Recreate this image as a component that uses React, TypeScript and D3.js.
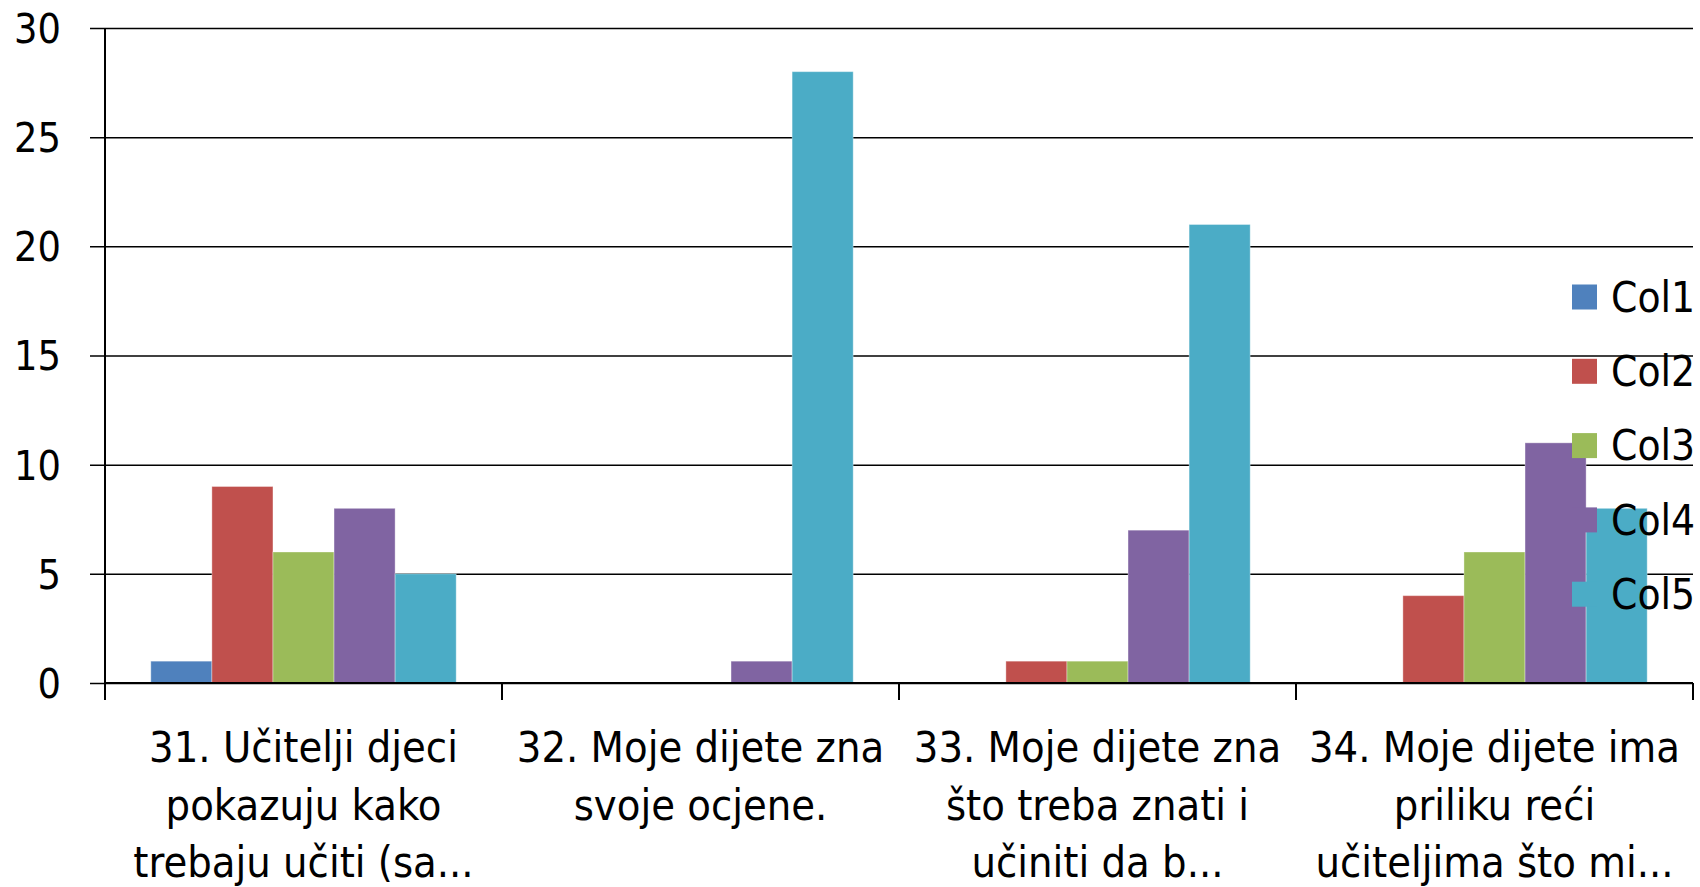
import { axisLeft, max, scaleBand, scaleLinear, select } from 'd3';
import React, { useEffect, useRef } from 'react';

const categories = ['31', '32', '33', '34'];
const categoryLabels = [
  ['31. Učitelji djeci', 'pokazuju kako', 'trebaju učiti (sa...'],
  ['32. Moje dijete zna', 'svoje ocjene.'],
  ['33. Moje dijete zna', 'što treba znati i', 'učiniti da b...'],
  ['34. Moje dijete ima', 'priliku reći', 'učiteljima što mi...'],
];
const seriesNames = ['Col1', 'Col2', 'Col3', 'Col4', 'Col5'];
const col1 = [1, 0, 0, 0];
const col2 = [9, 0, 1, 4];
const col3 = [6, 0, 1, 6];
const col4 = [8, 1, 7, 11];
const col5 = [5, 28, 21, 8];
const yTicks = [0, 5, 10, 15, 20, 25, 30];
const colors = ['#4F81BD', '#C0504D', '#9BBB59', '#8064A2', '#4BACC6'];

const FONT = "'Liberation Sans Narrow', 'DejaVu Sans Condensed', Lato, sans-serif";

function App() {
  const svgRef = useRef(null);

  useEffect(() => {
    const svg = select(svgRef.current);
    svg.selectAll('*').remove();

    const allSeries = [col1, col2, col3, col4, col5];
    const left = 105;
    const right = 1693;
    const top = 28;
    const bottom = 683;

    const x0 = scaleBand().domain(categories).range([left, right]).padding(0);
    const x1 = scaleBand()
      .domain(seriesNames)
      .range([0, x0.bandwidth()])
      .paddingInner(0)
      .paddingOuter(0.75);
    const y = scaleLinear()
      .domain([0, max(yTicks)])
      .range([bottom, top]);

    // gridlines + y labels
    const yAxis = axisLeft(y)
      .tickValues(yTicks)
      .tickSize(-(right - left))
      .tickPadding(0);
    const yg = svg
      .append('g')
      .attr('transform', `translate(${left},0)`)
      .call(yAxis);
    yg.select('.domain').remove();
    yg.selectAll('.tick line')
      .attr('x1', -15)
      .attr('stroke', '#000')
      .attr('stroke-width', 1.5);
    yg.selectAll('.tick text')
      .attr('x', -44)
      .attr('dy', '0.35em')
      .attr('font-size', 41)
      .attr('font-family', FONT)
      .attr('fill', '#000');

    // bars
    allSeries.forEach((vals, si) => {
      svg
        .append('g')
        .selectAll('rect')
        .data(vals)
        .join('rect')
        .attr('x', (d, i) => x0(categories[i]) + x1(seriesNames[si]))
        .attr('y', d => y(d))
        .attr('width', x1.bandwidth())
        .attr('height', d => bottom - y(d))
        .attr('fill', colors[si])
        .attr('stroke', 'rgba(255,255,255,0.35)')
        .attr('stroke-width', 1);
    });

    // axes lines
    svg
      .append('line')
      .attr('x1', left)
      .attr('x2', left)
      .attr('y1', top)
      .attr('y2', bottom + 17)
      .attr('stroke', '#000')
      .attr('stroke-width', 2);
    svg
      .append('line')
      .attr('x1', left)
      .attr('x2', right)
      .attr('y1', bottom)
      .attr('y2', bottom)
      .attr('stroke', '#000')
      .attr('stroke-width', 2);
    const bounds = categories.map(c => x0(c)).concat([right]);
    svg
      .append('g')
      .selectAll('line')
      .data(bounds)
      .join('line')
      .attr('x1', d => d)
      .attr('x2', d => d)
      .attr('y1', bottom)
      .attr('y2', bottom + 17)
      .attr('stroke', '#000')
      .attr('stroke-width', 2);

    // category labels
    const lab = svg
      .append('g')
      .selectAll('text')
      .data(categoryLabels)
      .join('text')
      .attr('x', (d, i) => x0(categories[i]) + x0.bandwidth() / 2)
      .attr('text-anchor', 'middle')
      .attr('font-size', 43)
      .attr('font-family', FONT)
      .attr('fill', '#000');
    lab
      .selectAll('tspan')
      .data(d => d)
      .join('tspan')
      .attr('x', function () {
        return select(this.parentNode).attr('x');
      })
      .attr('y', (d, i) => 762 + i * 57.5)
      .text(d => d);

    // legend
    const leg = svg
      .append('g')
      .selectAll('g')
      .data(seriesNames)
      .join('g')
      .attr('transform', (d, i) => `translate(1572,${297 + i * 74.3})`);
    leg
      .append('rect')
      .attr('x', 0)
      .attr('y', -12.5)
      .attr('width', 25)
      .attr('height', 25)
      .attr('fill', (d, i) => colors[i]);
    leg
      .append('text')
      .attr('x', 39)
      .attr('dy', '0.35em')
      .attr('font-size', 42)
      .attr('font-family', FONT)
      .attr('fill', '#000')
      .text(d => d);
  }, []);

  return (
    <div style={{ position: 'absolute', left: 0, top: 0 }}>
      <svg ref={svgRef} width={1700} height={887} style={{ display: 'block', background: '#fff' }} />
    </div>
  );
}

export default App;
